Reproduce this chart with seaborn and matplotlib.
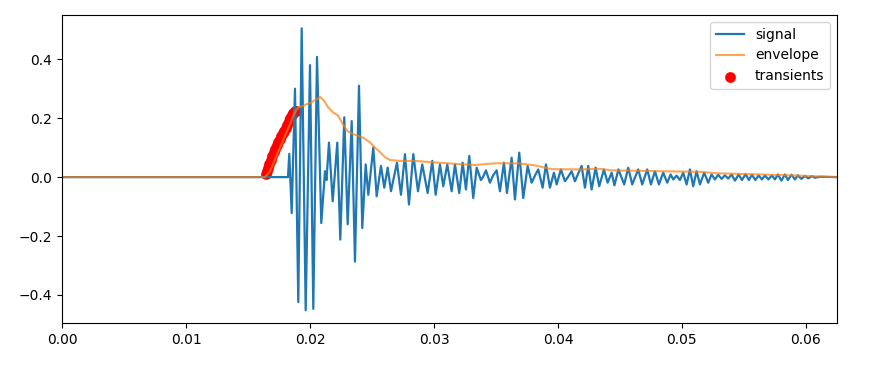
import matplotlib
matplotlib.use("Agg")
import matplotlib.pyplot as plt
import seaborn as sns
import numpy as np

# Signal extremes (time in s, amplitude)
signal_t = [0.0, 0.018226, 0.018331, 0.018524, 0.018790, 0.019056, 0.019331, 0.019653,
            0.020000, 0.020266, 0.020565, 0.020911, 0.021210, 0.021331, 0.021532, 0.021831,
            0.022202, 0.022444, 0.022766, 0.023040, 0.023363, 0.023629, 0.023952, 0.024218,
            0.024492, 0.024702, 0.025105, 0.025379, 0.025726, 0.025992, 0.026266, 0.026532,
            0.027016, 0.027339, 0.027661, 0.027984, 0.028331, 0.028710, 0.029056, 0.029492,
            0.029863, 0.030137, 0.030484, 0.030750, 0.031073, 0.031427, 0.031694, 0.032040,
            0.032315, 0.032581, 0.032847, 0.033169, 0.033444, 0.033790, 0.033952, 0.034194,
            0.034516, 0.034758, 0.035056, 0.035323, 0.035645, 0.035887, 0.036266, 0.036532,
            0.036879, 0.037202, 0.037556, 0.037879, 0.038145, 0.038411, 0.038766, 0.039032,
            0.039355, 0.039677, 0.039895, 0.040242, 0.040565, 0.040806, 0.041105, 0.041371,
            0.041613, 0.041911, 0.042177, 0.042444, 0.042718, 0.043040, 0.043331, 0.043710,
            0.044008, 0.044331, 0.044556, 0.044879, 0.045347, 0.045669, 0.045992, 0.046476,
            0.046798, 0.047202, 0.047500, 0.047823, 0.048145, 0.048492, 0.048815, 0.049089,
            0.049298, 0.049573, 0.049839, 0.050105, 0.050379, 0.050645, 0.050911, 0.051185,
            0.051452, 0.051798, 0.052121, 0.052395, 0.052661, 0.052927, 0.053202, 0.053468,
            0.053734, 0.054008, 0.054274, 0.054573, 0.054839, 0.055137, 0.055403, 0.055645,
            0.055927, 0.056185, 0.056452, 0.056694, 0.056976, 0.057258, 0.057500, 0.057742,
            0.058024, 0.058306, 0.058548, 0.058847, 0.059113, 0.059355, 0.059637, 0.059919,
            0.060202, 0.060484, 0.060726, 0.061129, 0.0625]
signal_v = [0.0, 0.0, 0.079, -0.122, 0.30, -0.424, 0.505, -0.452,
            0.38, -0.447, 0.408, -0.156, 0.02, -0.01, 0.117, -0.082,
            0.117, -0.212, 0.203, -0.16, 0.19, -0.287, 0.31, -0.173,
            0.043, -0.06, 0.10, -0.065, 0.038, -0.036, 0.032, -0.048,
            0.049, -0.06, 0.078, -0.093, 0.078, -0.048, 0.043, -0.054,
            0.055, -0.06, 0.043, -0.031, 0.043, -0.048, 0.043, -0.054,
            0.049, -0.042, 0.072, -0.071, 0.032, -0.01, 0.0, 0.023,
            -0.019, 0.005, 0.023, -0.048, 0.049, -0.054, 0.066, -0.076,
            0.083, -0.071, 0.038, -0.019, 0.005, 0.026, -0.036, 0.043,
            -0.036, 0.015, -0.025, 0.026, -0.014, 0.0, 0.02, -0.014,
            0.01, 0.038, -0.036, 0.038, -0.042, 0.032, -0.031, 0.026,
            -0.019, 0.015, -0.028, 0.026, -0.025, 0.032, -0.025, 0.026,
            -0.025, 0.026, -0.025, 0.02, -0.025, 0.015, -0.019, 0.009,
            -0.008, 0.005, -0.01, 0.015, -0.025, 0.026, -0.031, 0.02,
            -0.025, 0.015, -0.019, 0.009, -0.008, 0.008, -0.006, 0.006,
            -0.005, 0.009, -0.012, 0.009, -0.01, 0.01, -0.01, 0.008,
            -0.01, 0.006, -0.008, 0.006, -0.008, 0.006, -0.008, 0.009,
            -0.012, 0.009, -0.01, 0.008, -0.008, 0.006, -0.006, 0.004,
            -0.004, 0.003, -0.002, 0.001, 0.0]

# Envelope
env_t = [0.0, 0.016371, 0.016774, 0.017177, 0.017581, 0.017984, 0.018387, 0.018710,
         0.019032, 0.019597, 0.020161, 0.020565, 0.020806, 0.021129, 0.021452, 0.021855,
         0.022258, 0.022581, 0.022984, 0.023468, 0.024274, 0.024839, 0.025242, 0.025645,
         0.026048, 0.026452, 0.027258, 0.028468, 0.029677, 0.031048, 0.032500, 0.033306,
         0.034355, 0.035161, 0.036129, 0.036935, 0.038145, 0.038952, 0.039516, 0.041774,
         0.043387, 0.044355, 0.048226, 0.051452, 0.052823, 0.056290, 0.059516, 0.0625]
env_v = [0.0, 0.0, 0.02, 0.06, 0.10, 0.14, 0.18, 0.215,
         0.235, 0.245, 0.255, 0.265, 0.272, 0.26, 0.237, 0.22,
         0.209, 0.185, 0.157, 0.146, 0.134, 0.118, 0.10, 0.085,
         0.068, 0.058, 0.055, 0.055, 0.051, 0.047, 0.043, 0.041,
         0.045, 0.047, 0.047, 0.046, 0.040, 0.032, 0.027, 0.026,
         0.028, 0.023, 0.020, 0.018, 0.013, 0.009, 0.005, 0.0]

# Transients
tr_t = [0.016452, 0.016532, 0.016613, 0.016734, 0.016855, 0.016976, 0.017097, 0.017218,
        0.017339, 0.017460, 0.017581, 0.017702, 0.017823, 0.017944, 0.018065, 0.018185,
        0.018306, 0.018427, 0.018548, 0.018669, 0.018790, 0.018911]
tr_v = [0.012, 0.022, 0.032, 0.045, 0.058, 0.072, 0.085, 0.097,
        0.108, 0.118, 0.128, 0.138, 0.148, 0.158, 0.167, 0.178,
        0.19, 0.20, 0.21, 0.218, 0.224, 0.226]

fig, ax = plt.subplots(figsize=(8.8, 3.67), dpi=100)
fig.subplots_adjust(left=0.0705, right=0.951, top=0.959, bottom=0.12)

sns.lineplot(x=signal_t, y=signal_v, ax=ax, color="tab:blue", linewidth=1.6,
             label="signal", estimator=None, sort=False)
sns.lineplot(x=env_t, y=env_v, ax=ax, color="tab:orange", alpha=0.7, linewidth=1.5,
             label="envelope", estimator=None, sort=False)
sns.scatterplot(x=tr_t, y=tr_v, ax=ax, color="red", s=60, linewidth=0,
                label="transients", zorder=1)

ax.set_xlim(0, 0.0625)
ax.set_ylim(-0.495, 0.55)
ax.set_xlabel("")
ax.set_ylabel("")
ax.legend(loc="upper right")

fig.savefig("out.png", dpi=100)
